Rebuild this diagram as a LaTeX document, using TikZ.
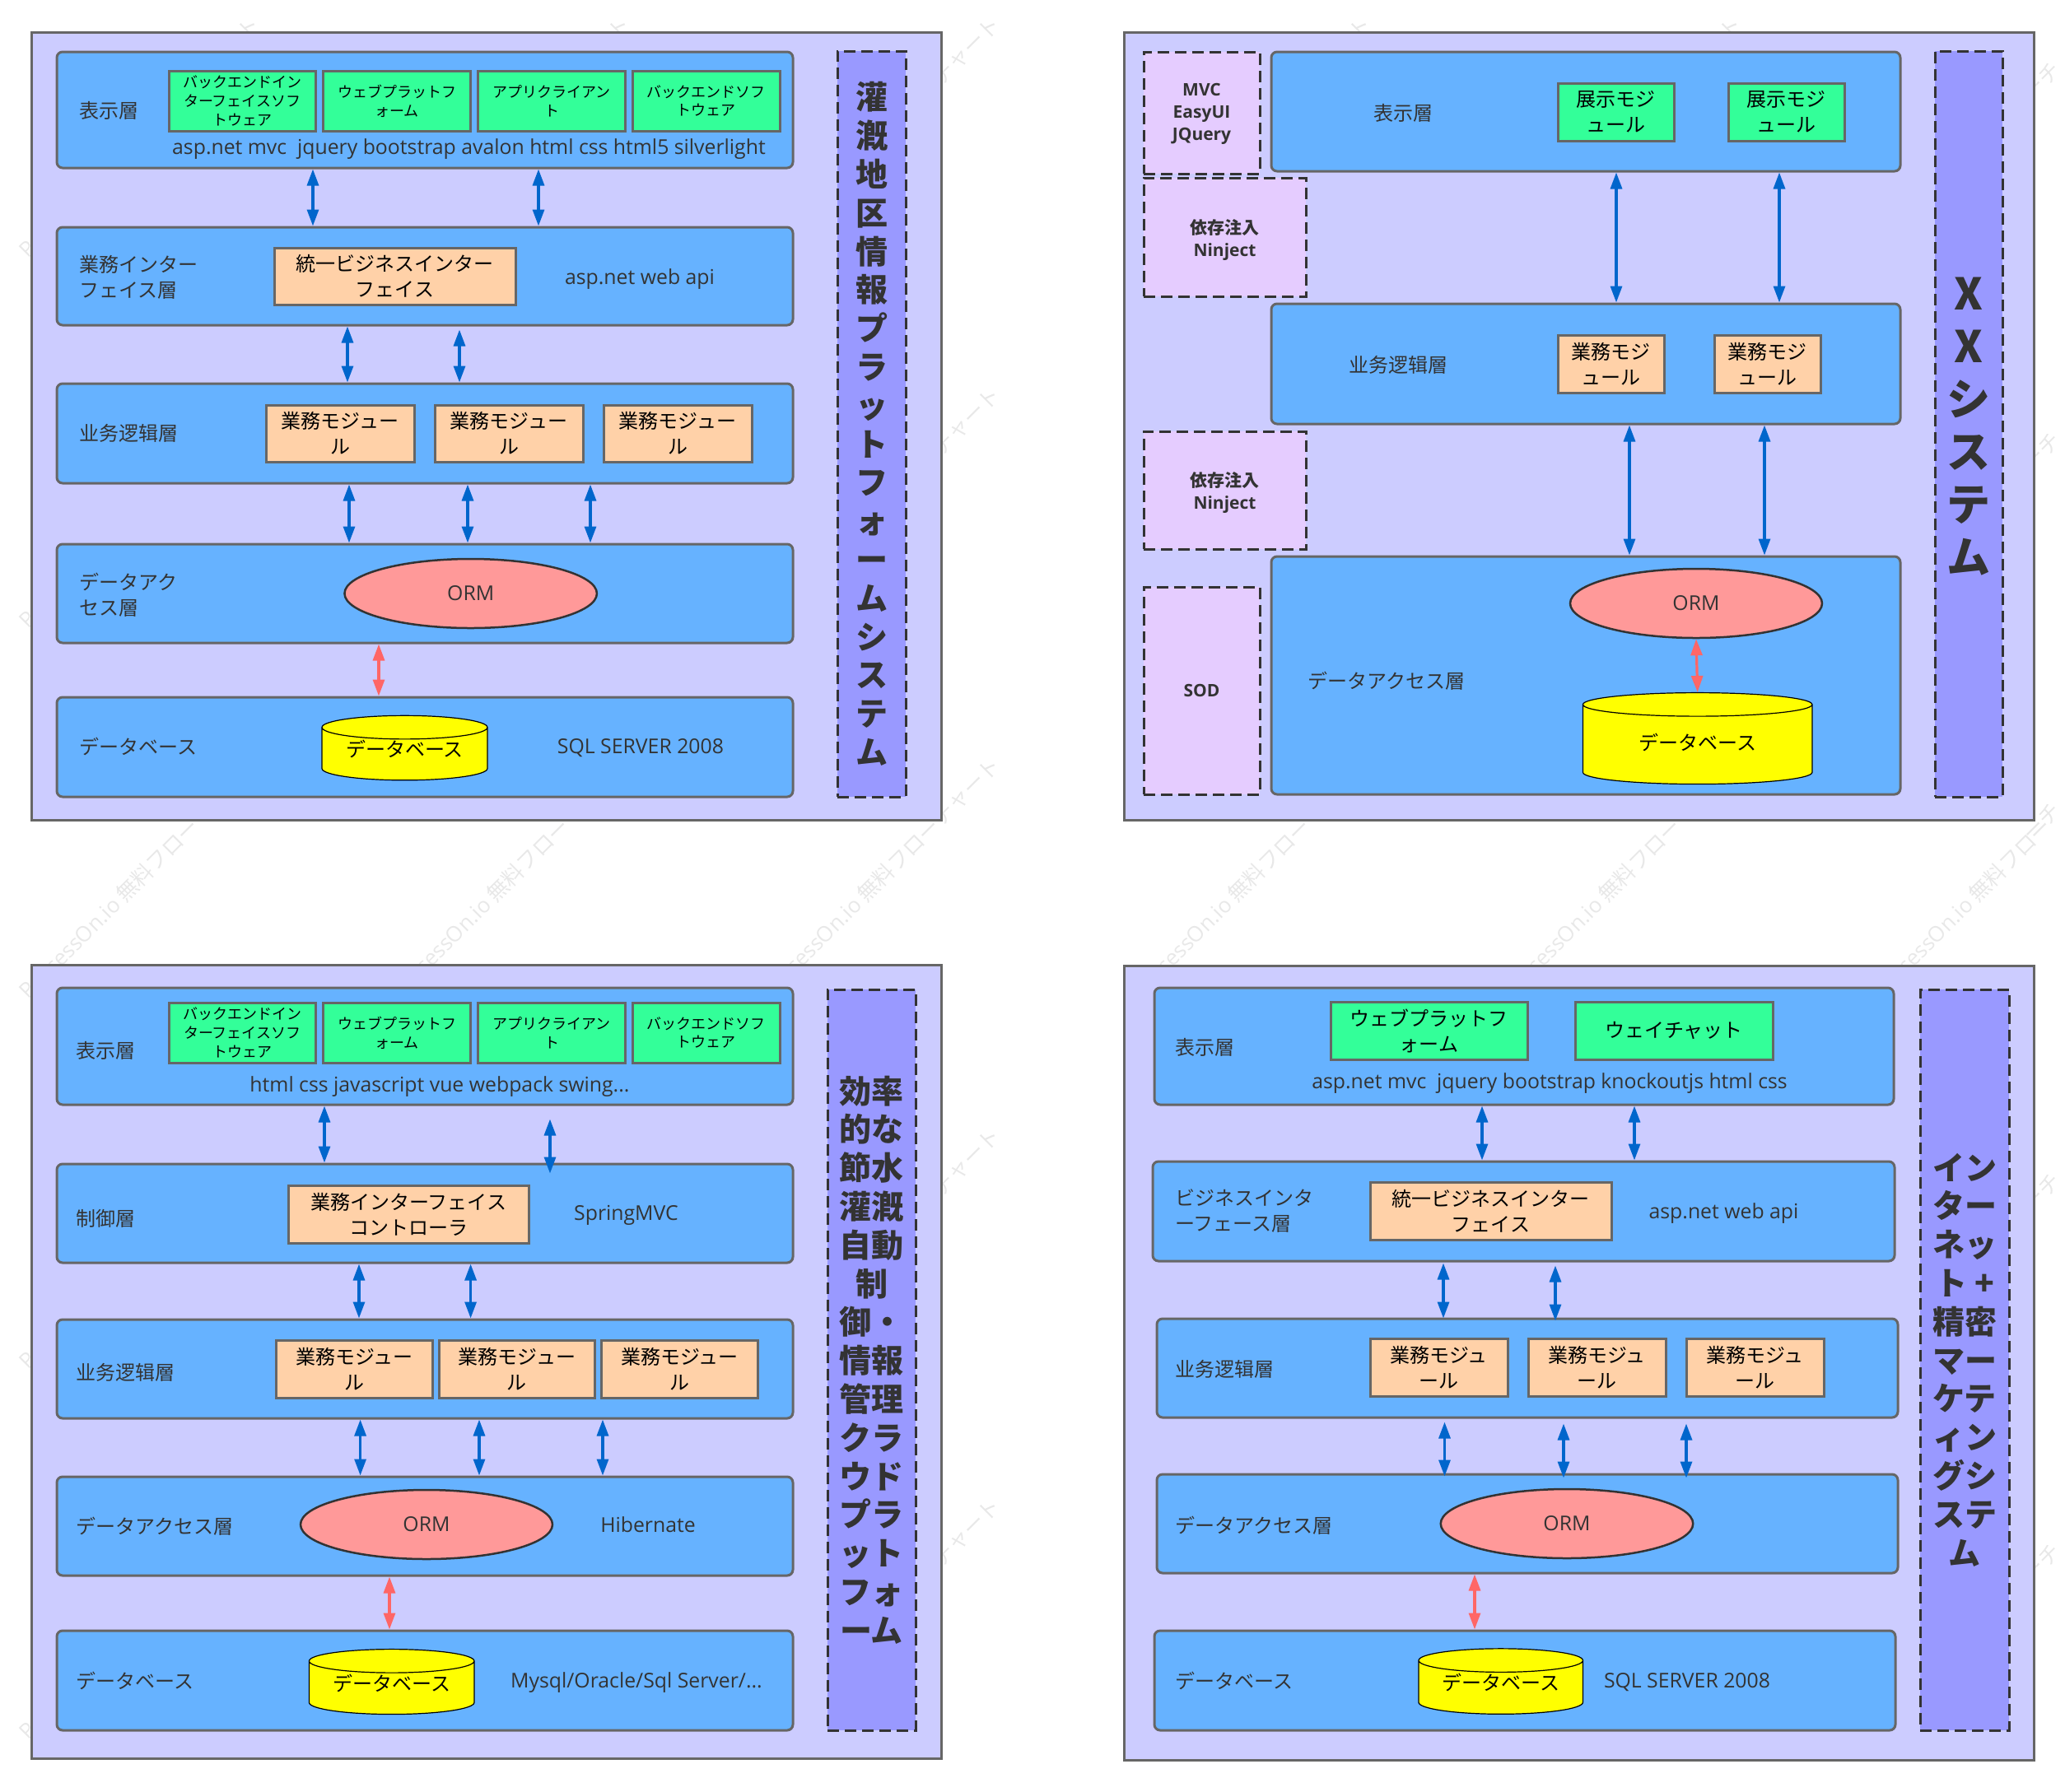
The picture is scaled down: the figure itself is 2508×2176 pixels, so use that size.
\documentclass[tikz,border=0pt]{standalone}
\usepackage{fontspec}
\setmainfont{Noto Sans CJK JP}
\newfontfamily\latf{Open Sans}
\usetikzlibrary{shapes.geometric,arrows.meta,positioning}
\definecolor{panelcolor}{HTML}{CCCCFF}
\definecolor{tiercolor}{HTML}{66B2FF}
\definecolor{edgecolor}{HTML}{666666}
\definecolor{viewcolor}{HTML}{33FF99}
\definecolor{modcolor}{HTML}{FFD1A8}
\definecolor{ormcolor}{HTML}{FF9999}
\definecolor{dbcolor}{HTML}{FFFF00}
\definecolor{titlecolor}{HTML}{9999FF}
\definecolor{sidecolor}{HTML}{E5CCFF}
\definecolor{txtcolor}{HTML}{333333}
\definecolor{bluearrow}{HTML}{0066CC}
\definecolor{redarrow}{HTML}{FF6666}

\begin{document}
\begin{tikzpicture}[
    x=0.5pt, y=-0.5pt,
    size/.style 2 args={minimum width=#1*0.5pt, minimum height=#2*0.5pt},
    corner/.style={anchor=north west, xshift=-0.75pt, yshift=0.75pt},
    every node/.style={inner sep=0pt, align=center},
    mark text/.style={font=\fontsize{12}{15.5}\selectfont},
    watermark/.style={rotate=45, anchor=west, text=black!9, font=\fontsize{13}{15}\selectfont},
    panel/.style={rectangle, draw=edgecolor, line width=1.5pt, fill=panelcolor, anchor=north west},
    tier/.style={rectangle, draw=edgecolor, line width=1.5pt, fill=tiercolor, rounded corners=3.5pt, corner},
    viewbox/.style={rectangle, draw=edgecolor, line width=1.5pt, fill=viewcolor, mark text},
    smallview/.style={viewbox, font=\fontsize{9}{11.4}\selectfont},
    modbox/.style={rectangle, draw=edgecolor, line width=1.5pt, fill=modcolor, mark text},
    orm/.style={ellipse, draw=txtcolor, line width=1.25pt, fill=ormcolor, text=txtcolor, font=\latf\fontsize{12.4}{15}\selectfont},
    dbase/.style={cylinder, shape border rotate=90, aspect=0.2, draw=black, line width=0.6pt, fill=dbcolor, mark text, text depth=6.4pt},
    titlebox/.style={rectangle, draw=txtcolor, dash pattern=on 7pt off 3.5pt, line width=1.5pt, fill=titlecolor, text=txtcolor, corner, font=\fontsize{19.5}{23.4}\selectfont\bfseries},
    sidebox/.style={rectangle, draw=txtcolor, dash pattern=on 7pt off 3.5pt, line width=1.5pt, fill=sidecolor, text=txtcolor, corner, font=\fontsize{10.5}{13.5}\selectfont\bfseries},
    label/.style={mark text, text=txtcolor, anchor=west, align=left},
    latin/.style={text=txtcolor, yshift=-1pt, font=\latf\fontsize{12.4}{15}\selectfont},
    arrow/.style={<->, >={Triangle[length=10pt,width=7pt]}, line width=1.6pt, draw=bluearrow},
    dbarrow/.style={arrow, draw=redarrow}
]
\useasboundingbox (0,0) rectangle (2508,2176);

% Watermark pieces left visible around the panels
\foreach \markx/\marky/\markd/\markt [count=\markn] in {
  28/308/0/{\latf P}, 28/758/0/{\latf P}, 28/1208/0/{\latf P}, 28/1658/0/{\latf P}, 28/2108/0/{\latf P},
  28/308/264.5/ト, 478/308/264.5/ト, 1378/308/264.5/ト, 1828/308/264.5/ト,
  928/308/209/チャート, 928/758/209/チャート, 928/1208/209/チャート, 928/1658/209/チャート, 928/2108/209/チャート,
  2270/308/191/ーチ, 2270/758/191/ーチ, 2270/1208/191/ーチ, 2270/1658/191/ーチ, 2270/2108/191/ーチ,
  28/1208/30/{{\latf cessOn.io} 無料フロー}, 478/1208/30/{{\latf cessOn.io} 無料フロー},
  928/1208/30/{{\latf cessOn.io} 無料フロー}, 1378/1208/30/{{\latf cessOn.io} 無料フロー},
  1828/1208/30/{{\latf cessOn.io} 無料フロー}, 2278/1208/30/{{\latf cessOn.io} 無料フロー}} {
  \node[watermark] (wm\markn) at (\markx+\markd,\marky-\markd) {\markt};
}

% Panel 1: top left
\node[panel, size={1105}{957}] (p1) at (37,38) {};
\node[tier, size={894}{141}] (p1_view) at (69,63) {};
\node[tier, size={894}{119}] (p1_api) at (69,276) {};
\node[tier, size={894}{121}] (p1_logic) at (69,466) {};
\node[tier, size={894}{120}] (p1_data) at (69,661) {};
\node[tier, size={894}{121}] (p1_db) at (69,847) {};
\node[titlebox, size={83}{906}] (p1_title) at (1017,62) {灌\\漑\\地\\区\\情\\報\\プ\\ラ\\ッ\\ト\\フ\\ォ\\ー\\ム\\シ\\ス\\テ\\ム};

% Row 1
\node[label] (p1_view_l) at (96,134) {表示層};
\node[smallview, size={178.5}{73}, corner] (p1_g1) at (205,86) {バックエンドイン\\ターフェイスソフ\\トウェア};
\node[smallview, size={178.5}{73}, right=3.2pt of p1_g1] (p1_g2) {ウェブプラットフ\\ォーム};
\node[smallview, size={178.5}{73}, right=3.2pt of p1_g2] (p1_g3) {アプリクライアン\\ト};
\node[smallview, size={178.5}{73}, right=3.2pt of p1_g3] (p1_g4) {バックエンドソフ\\トウェア};
\node[latin] (p1_view_t) at (569.5,179) {asp.net mvc\ \ jquery bootstrap avalon html css html5 silverlight};

% Row 2
\node[label] (p1_api_l) at (96,336.5) {業務インター\\フェイス層};
\node[modbox, size={293}{69}, corner] (p1_unify) at (333,301) {統一ビジネスインター\\フェイス};
\node[latin] (p1_api_t) at (777,337) {asp.net web api};

% Row 3
\node[label] (p1_logic_l) at (96,526) {业务逻辑層};
\node[modbox, size={180}{69}, corner] (p1_m1) at (323,492) {業務モジュー\\ル};
\node[modbox, size={180}{69}, right=11pt of p1_m1] (p1_m2) {業務モジュー\\ル};
\node[modbox, size={180}{69}, right=11pt of p1_m2] (p1_m3) {業務モジュー\\ル};

% Row 4
\node[label] (p1_data_l) at (96,722.5) {データアク\\セス層};
\node[orm, size={306.5}{84}] (p1_orm) at (571.7,721) {ORM};

% Row 5
\node[label] (p1_db_l) at (96,907) {データベース};
\node[dbase, size={201}{78.5}] (p1_cyl) at (491.5,916) {データベース};
\node[latin] (p1_db_t) at (778,907) {SQL SERVER 2008};

% Arrows
\foreach \ax in {380,654} {
  \coordinate (m) at (\ax,0);
  \draw[arrow] (p1_view.south -| m) -- (p1_api.north -| m);
}
\foreach \ax/\as in {422/0pt,558/2pt} {
  \coordinate (m) at (\ax,0);
  \draw[arrow, shorten <=\as] (p1_api.south -| m) -- (p1_logic.north -| m);
}
\foreach \ax in {424,568,717} {
  \coordinate (m) at (\ax,0);
  \draw[arrow] (p1_logic.south -| m) -- (p1_data.north -| m);
}
\coordinate (m) at (460,0);
\draw[dbarrow] (p1_data.south -| m) -- (p1_db.north -| m);

% Panel 2: top right
\node[panel, size={1105}{957}] (p2) at (1364,38) {};
\node[tier, size={764}{145}] (p2_view) at (1544,63) {};
\node[tier, size={764}{146}] (p2_logic) at (1544,369) {};
\node[tier, size={764}{289}] (p2_data) at (1544,676) {};
\node[titlebox, size={82}{906}, font=\fontsize{26.5}{32}\selectfont\bfseries] (p2_title) at (2350,62) {\rule{0pt}{22.5pt}X\\X\\シ\\ス\\テ\\ム};

% Side boxes
\node[sidebox, size={141}{148}] (p2_s1) at (1389,63) {\rule{0pt}{9.5pt}{\latf MVC}\\{\latf EasyUI}\\{\latf JQuery}};
\node[sidebox, size={197}{144}] (p2_s2) at (1389,216) {\rule{0pt}{12.2pt}依存注入\\{\latf Ninject}};
\node[sidebox, size={197}{143}] (p2_s3) at (1389,524) {\rule{0pt}{12.2pt}依存注入\\{\latf Ninject}};
\node[sidebox, size={141}{252}] (p2_s4) at (1389,713) {{\latf SOD}};

% Tier contents
\node[mark text, text=txtcolor] (p2_view_l) at (1704,137) {表示層};
\node[viewbox, size={141}{70}, corner] (p2_g1) at (1892,101) {展示モジ\\ュール};
\node[viewbox, size={141}{70}, right=31.5pt of p2_g1] (p2_g2) {展示モジ\\ュール};
\node[mark text, text=txtcolor] (p2_logic_l) at (1698,443) {业务逻辑層};
\node[modbox, size={129}{70}, corner] (p2_m1) at (1892,407) {業務モジ\\ュール};
\node[modbox, size={129}{70}, right=29pt of p2_m1] (p2_m2) {業務モジ\\ュール};
\node[mark text, text=txtcolor] (p2_data_l) at (1684,827) {データアクセス層};
\node[orm, size={306}{84}] (p2_orm) at (2060,733) {ORM};
\node[dbase, size={278.5}{111}, text depth=3.4pt] (p2_cyl) at (2061.7,904.5) {データベース};

% Arrows
\foreach \ax in {1963,2161} {
  \coordinate (m) at (\ax,0);
  \draw[arrow] (p2_view.south -| m) -- (p2_logic.north -| m);
}
\foreach \ax in {1979,2143} {
  \coordinate (m) at (\ax,0);
  \draw[arrow] (p2_logic.south -| m) -- (p2_data.north -| m);
}
\draw[dbarrow] (p2_orm.south) -- (p2_cyl.north);

% Panel 3: bottom left
\node[panel, size={1105}{964}] (p3) at (37,1171) {};
\node[tier, size={894}{142}] (p3_view) at (69,1200) {};
\node[tier, size={894}{120}] (p3_ctrl) at (69,1414) {};
\node[tier, size={894}{120}] (p3_logic) at (69,1603) {};
\node[tier, size={894}{120}] (p3_data) at (69,1794) {};
\node[tier, size={894}{121}] (p3_db) at (69,1981) {};
\node[titlebox, size={107}{900}] (p3_title) at (1005,1202) {効率\\的な\\節水\\灌漑\\自動\\制\\御・\\情報\\管理\\クラ\\ウド\\プラ\\ット\\フォ\\ーム};

% Row 1
\node[label] (p3_view_l) at (92.5,1276) {表示層};
\node[smallview, size={178.5}{73}, corner] (p3_g1) at (205,1218) {バックエンドイン\\ターフェイスソフ\\トウェア};
\node[smallview, size={178.5}{73}, right=3.2pt of p3_g1] (p3_g2) {ウェブプラットフ\\ォーム};
\node[smallview, size={178.5}{73}, right=3.2pt of p3_g2] (p3_g3) {アプリクライアン\\ト};
\node[smallview, size={178.5}{73}, right=3.2pt of p3_g3] (p3_g4) {バックエンドソフ\\トウェア};
\node[latin] (p3_view_t) at (534,1318) {html css javascript vue webpack swing...};

% Row 2
\node[label] (p3_ctrl_l) at (92.5,1480) {制御層};
\node[modbox, size={292.5}{70}, corner] (p3_unify) at (350,1440) {業務インターフェイス\\コントローラ};
\node[latin] (p3_ctrl_t) at (760.5,1474) {SpringMVC};

% Row 3
\node[label] (p3_logic_l) at (92.5,1667) {业务逻辑層};
\node[modbox, size={189.5}{70}, corner] (p3_m1) at (335.6,1628.5) {業務モジュー\\ル};
\node[modbox, size={189.5}{70}, right=2.5pt of p3_m1] (p3_m2) {業務モジュー\\ル};
\node[modbox, size={189.5}{70}, right=2.5pt of p3_m2] (p3_m3) {業務モジュー\\ル};

% Row 4
\node[label] (p3_data_l) at (92.5,1854) {データアクセス層};
\node[orm, size={306}{84}] (p3_orm) at (518,1852) {ORM};
\node[latin] (p3_data_t) at (787,1850) {Hibernate};

% Row 5
\node[label] (p3_db_l) at (92.5,2042) {データベース};
\node[dbase, size={200.5}{79}] (p3_cyl) at (475.7,2050.5) {データベース};
\node[latin] (p3_db_t) at (773,2042) {Mysql/Oracle/Sql Server/...};

% Arrows
\coordinate (m) at (394,0);
\draw[arrow] (p3_view.south -| m) -- (p3_ctrl.north -| m);
\coordinate (m) at (668,0);
\draw[arrow, shorten <=8pt, shorten >=-6.5pt] (p3_view.south -| m) -- (p3_ctrl.north -| m);
\foreach \ax in {436,571.6} {
  \coordinate (m) at (\ax,0);
  \draw[arrow] (p3_ctrl.south -| m) -- (p3_logic.north -| m);
}
\foreach \ax in {437.6,582,732} {
  \coordinate (m) at (\ax,0);
  \draw[arrow] (p3_logic.south -| m) -- (p3_data.north -| m);
}
\coordinate (m) at (473,0);
\draw[dbarrow] (p3_data.south -| m) -- (p3_db.north -| m);

% Panel 4: bottom right
\node[panel, size={1105}{965}] (p4) at (1364,1172) {};
\node[tier, size={898}{142}] (p4_view) at (1402,1200) {};
\node[tier, size={901}{121}] (p4_api) at (1400,1411) {};
\node[tier, size={900}{120}] (p4_logic) at (1405,1602) {};
\node[tier, size={900}{120}] (p4_data) at (1405,1791) {};
\node[tier, size={900}{121}] (p4_db) at (1402,1981) {};
\node[titlebox, size={108}{900}] (p4_title) at (2332,1202) {イン\\ター\\ネッ\\ト +\\精密\\マー\\ケテ\\ィン\\グシ\\ステ\\ム};

% Row 1
\node[label] (p4_view_l) at (1427,1272) {表示層};
\node[viewbox, size={239}{70}, corner] (p4_g1) at (1616,1217) {ウェブプラットフ\\ォーム};
\node[viewbox, size={240}{70}, right=27.5pt of p4_g1] (p4_g2) {ウェイチャット};
\node[latin] (p4_view_t) at (1882,1314) {asp.net mvc\ \ jquery bootstrap knockoutjs html css};

% Row 2
\node[label] (p4_api_l) at (1427,1471.5) {ビジネスインタ\\ーフェース層};
\node[modbox, size={293}{70}, corner] (p4_unify) at (1664,1436) {統一ビジネスインター\\フェイス};
\node[latin] (p4_api_t) at (2093.5,1472) {asp.net web api};

% Row 3
\node[label] (p4_logic_l) at (1427,1663) {业务逻辑層};
\node[modbox, size={167}{70}, corner] (p4_m1) at (1664,1626) {業務モジュ\\ール};
\node[modbox, size={167}{70}, right=11pt of p4_m1] (p4_m2) {業務モジュ\\ール};
\node[modbox, size={167}{70}, right=11pt of p4_m2] (p4_m3) {業務モジュ\\ール};

% Row 4
\node[label] (p4_data_l) at (1427,1853) {データアクセス層};
\node[orm, size={306.5}{84}] (p4_orm) at (1903,1851) {ORM};

% Row 5
\node[label] (p4_db_l) at (1427,2042) {データベース};
\node[dbase, size={199.5}{79.5}] (p4_cyl) at (1822.7,2050) {データベース};
\node[latin] (p4_db_t) at (2049,2042) {SQL SERVER 2008};

% Arrows
\foreach \ax in {1800,1985} {
  \coordinate (m) at (\ax,0);
  \draw[arrow] (p4_view.south -| m) -- (p4_api.north -| m);
}
\foreach \ax/\as in {1753/0.5pt,1889/2pt} {
  \coordinate (m) at (\ax,0);
  \draw[arrow, shorten <=\as, shorten >=-\as] (p4_api.south -| m) -- (p4_logic.north -| m);
}
\foreach \ax/\as in {1754.5/2pt,1899/3pt,2048/3pt} {
  \coordinate (m) at (\ax,0);
  \draw[arrow, shorten <=\as, shorten >=-\as] (p4_logic.south -| m) -- (p4_data.north -| m);
}
\coordinate (m) at (1791,0);
\draw[dbarrow] (p4_data.south -| m) -- (p4_db.north -| m);

\end{tikzpicture}
\end{document}
